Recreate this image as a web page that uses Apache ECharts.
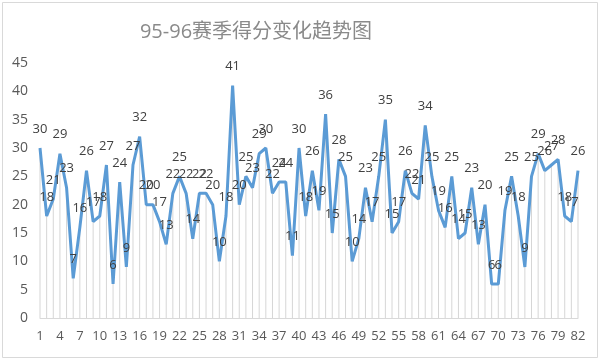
<!DOCTYPE html>
<html>
<head>
<meta charset="utf-8">
<script src="https://cdn.jsdelivr.net/npm/echarts@6/dist/echarts.min.js"></script>
<style>
html,body{margin:0;padding:0;background:#fff;}
#c{width:600px;height:360px;}
</style>
</head>
<body>
<div id="c"></div>
<script>
var titleText = '95-96赛季得分变化趋势图';
var games = [];
for (var i = 1; i <= 82; i++) games.push(String(i));
var points = [30,18,21,29,23,7,16,26,17,18,27,6,24,9,27,32,20,20,17,13,
  22,25,22,14,22,22,20,10,18,41,20,25,23,29,30,22,24,24,11,30,
  18,26,19,36,15,28,25,10,14,23,17,25,35,15,17,26,22,21,34,25,
  19,16,25,14,15,23,13,20,6,6,19,25,18,9,25,29,26,27,28,18,
  17,26];
var yTicks = [0,5,10,15,20,25,30,35,40,45];

var chart = echarts.init(document.getElementById('c'), null, {renderer:'canvas'});
chart.setOption({
  backgroundColor: '#ffffff',
  animation: false,
  title: {
    text: titleText,
    left: 251, top: 17,
    textAlign: 'center',
    textStyle: {fontSize: 20, fontWeight: 'normal', color: '#8a8a8a', fontFamily: 'Open Sans, Noto Sans CJK SC, sans-serif'}
  },
  graphic: [{
    type: 'rect', shape: {x: 2.5, y: 2.5, width: 595, height: 355},
    style: {fill: 'none', stroke: '#d9d9d9', lineWidth: 1}, silent: true
  }],
  grid: {left: 40, right: 22, top: 63, bottom: 42},
  xAxis: {
    type: 'category',
    data: games,
    boundaryGap: false,
    axisTick: {show: false},
    axisLine: {lineStyle: {color: '#d9d9d9'}},
    axisLabel: {interval: 2, color: '#595959', fontSize: 13, margin: 12, fontFamily: 'Open Sans, sans-serif'},
    splitLine: {show: false}
  },
  yAxis: {
    type: 'value',
    min: yTicks[0], max: yTicks[yTicks.length - 1], interval: 5,
    axisLine: {show: false},
    axisTick: {show: false},
    axisLabel: {color: '#595959', fontSize: 14, margin: 12, fontFamily: 'Open Sans, sans-serif'},
    splitLine: {show: false}
  },
  series: [{
    type: 'bar',
    data: points,
    barWidth: 1,
    itemStyle: {color: '#d6d6d6'},
    silent: true,
    z: 1
  }, {
    type: 'line',
    data: points,
    symbol: 'circle',
    symbolSize: 1,
    showSymbol: true,
    showAllSymbol: true,
    itemStyle: {color: 'rgba(0,0,0,0)'},
    lineStyle: {color: '#5b9bd5', width: 3},
    label: {show: true, position: 'top', distance: 12, color: '#404040', fontSize: 13, fontFamily: 'Open Sans, sans-serif'},
    z: 3
  }]
});
</script>
</body>
</html>
